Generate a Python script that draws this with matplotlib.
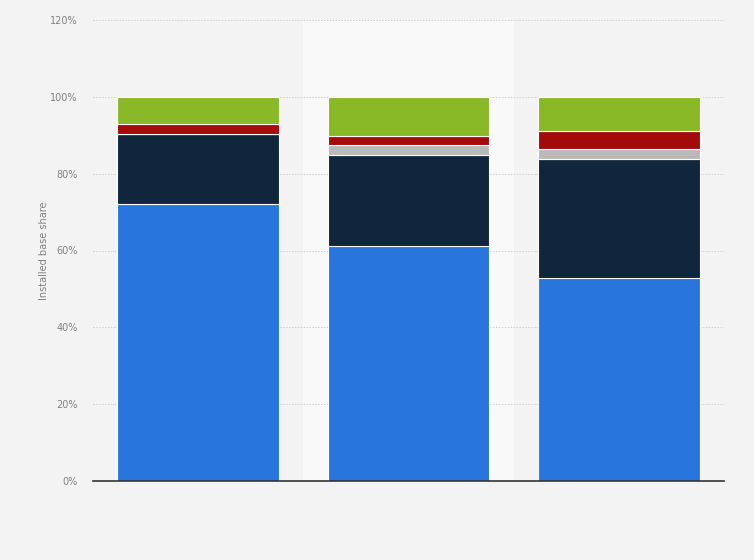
import matplotlib
matplotlib.use("Agg")
import matplotlib.pyplot as plt
import numpy as np

categories = ["A", "B", "C"]
series_names = ["Blue", "Navy", "Gray", "Red", "Green"]
blue = [72.0, 61.2, 52.9]
navy = [18.2, 23.7, 31.0]
gray = [0.0, 2.5, 2.6]
red = [2.6, 2.4, 4.7]
green = [7.2, 10.2, 8.8]
colors = ["#2876dd", "#10263d", "#b9b9b9", "#a30a0a", "#89b926"]
yticks = [0, 20, 40, 60, 80, 100, 120]
ytick_labels = ["0%", "20%", "40%", "60%", "80%", "100%", "120%"]

fig = plt.figure(figsize=(7.54, 5.6), dpi=100)
fig.patch.set_facecolor("#f3f3f3")
ax = fig.add_axes([93/754, 1-481/560, (724-93)/754, (481-20)/560])
ax.set_facecolor("#f3f3f3")

x = np.arange(len(categories))
ax.axvspan(0.5, 1.5, color="#f9f9f9", zorder=0.5, lw=0)

bottom = np.zeros(len(categories))
for vals, c in zip([blue, navy, gray, red, green], colors):
    v = np.array(vals)
    ax.bar(x, v, width=0.77, bottom=bottom, color=c, edgecolor="white",
           linewidth=0.8, zorder=3)
    bottom += v

ax.set_xlim(-0.5, 2.5)
ax.set_ylim(0, 120)
ax.set_yticks(yticks)
ax.set_yticklabels(ytick_labels, fontsize=7, color="#808080")
ax.set_xticks([])
ax.tick_params(axis="y", length=0, pad=11)
ax.grid(axis="y", color="#cfcfcf", linestyle=(0, (1.5, 1.5)), linewidth=0.7, zorder=1)
for s in ["top", "right", "left"]:
    ax.spines[s].set_visible(False)
ax.spines["bottom"].set_color("#333333")
ax.spines["bottom"].set_linewidth(1.2)
ax.spines["bottom"].set_zorder(4)
ax.set_ylabel("Installed base share", fontsize=7, color="#808080", labelpad=1)

fig.savefig("out.png", dpi=100, facecolor=fig.get_facecolor())
